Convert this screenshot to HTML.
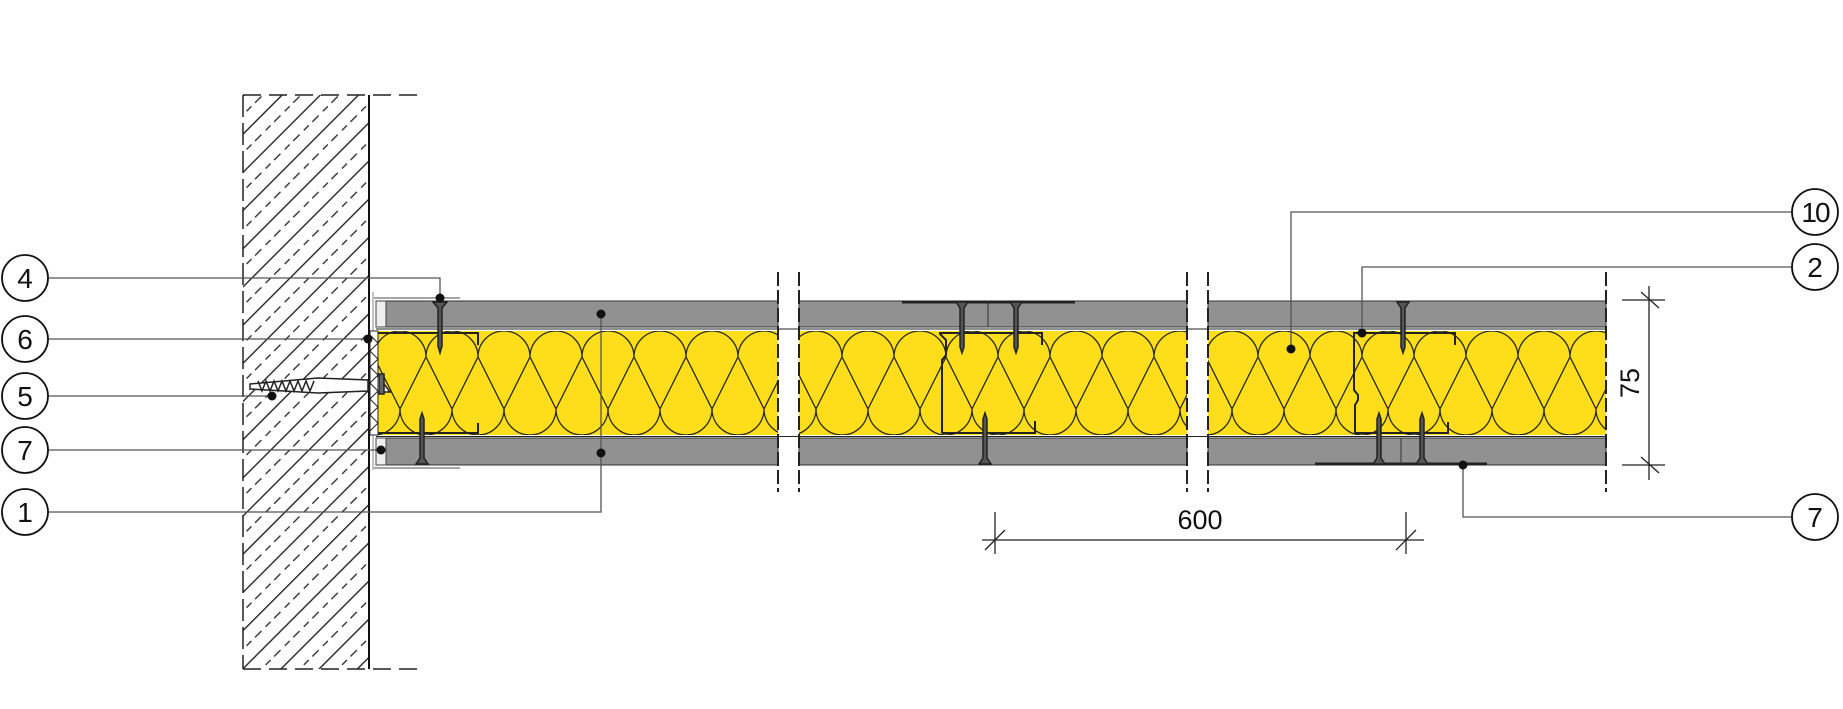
<!DOCTYPE html>
<html><head><meta charset="utf-8"><style>
html,body{margin:0;padding:0;background:#fff;}
svg{display:block;}
text{font-family:"Liberation Sans",sans-serif;fill:#111;}
</style></head><body>
<svg width="1843" height="709" viewBox="0 0 1843 709" xmlns="http://www.w3.org/2000/svg">
<defs>
<pattern id="ins" patternUnits="userSpaceOnUse" x="400" y="331" width="52" height="104">
  <g fill="none" stroke="#2a2a1a" stroke-width="1.3">
    <path d="M-26,26 A26,26 0 0 1 26,26 A26,26 0 0 1 78,26"/>
    <path d="M-52,78 A26,26 0 0 0 0,78 A26,26 0 0 0 52,78 A26,26 0 0 0 104,78"/>
    <path d="M0,78 L26,26 L52,78"/>
  </g>
</pattern>
<pattern id="hatch" patternUnits="userSpaceOnUse" width="27" height="27" patternTransform="translate(243,95) rotate(-45)">
  <line x1="0" y1="0.7" x2="27" y2="0.7" stroke="#222" stroke-width="1.3"/>
  <line x1="3" y1="14" x2="12" y2="14" stroke="#222" stroke-width="1.3"/>
  <line x1="18" y1="14" x2="25" y2="14" stroke="#222" stroke-width="1.3"/>
</pattern>
</defs>

<rect x="243" y="95" width="126" height="574" fill="url(#hatch)"/>
<line x1="243" y1="95" x2="243" y2="669" stroke="#222" stroke-width="1.5" stroke-dasharray="22,6"/>
<line x1="369" y1="95" x2="369" y2="669" stroke="#111" stroke-width="2"/>
<line x1="243" y1="95" x2="420" y2="95" stroke="#222" stroke-width="1.5" stroke-dasharray="18,8"/>
<line x1="243" y1="669" x2="420" y2="669" stroke="#222" stroke-width="1.5" stroke-dasharray="18,8"/>

<g>
  <rect x="376" y="301" width="402" height="26" fill="#919191" stroke="#333" stroke-width="1"/>
  <rect x="376" y="438" width="402" height="27" fill="#919191" stroke="#333" stroke-width="1"/>
  <rect x="377" y="331" width="401" height="104" fill="#fedd1a"/>
  <rect x="377" y="331" width="401" height="104" fill="url(#ins)"/>
  <rect x="799" y="301" width="388" height="26" fill="#919191" stroke="#333" stroke-width="1"/>
  <rect x="799" y="438" width="388" height="27" fill="#919191" stroke="#333" stroke-width="1"/>
  <rect x="799" y="331" width="388" height="104" fill="#fedd1a"/>
  <rect x="799" y="331" width="388" height="104" fill="url(#ins)"/>
  <rect x="1208" y="301" width="398" height="26" fill="#919191" stroke="#333" stroke-width="1"/>
  <rect x="1208" y="438" width="398" height="27" fill="#919191" stroke="#333" stroke-width="1"/>
  <rect x="1208" y="331" width="398" height="104" fill="#fedd1a"/>
  <rect x="1208" y="331" width="398" height="104" fill="url(#ins)"/>
  <line x1="376" y1="329" x2="1606" y2="329" stroke="#222" stroke-width="1"/>
  <line x1="376" y1="436.5" x2="1606" y2="436.5" stroke="#222" stroke-width="1"/>
</g>

<rect x="376" y="301" width="10" height="26" fill="#eee" stroke="#444" stroke-width="1"/>
<rect x="376" y="438" width="10" height="27" fill="#eee" stroke="#444" stroke-width="1"/>
<line x1="374" y1="298" x2="460" y2="298" stroke="#888" stroke-width="1.5"/>
<line x1="374" y1="468" x2="460" y2="468" stroke="#888" stroke-width="1.5"/>
<line x1="373" y1="292" x2="373" y2="470" stroke="#888" stroke-width="1"/>
<rect x="370" y="331" width="8" height="104" fill="#fff" stroke="#222" stroke-width="1"/>
<path d="M370,335 l8,8 l-8,8 l8,8 l-8,8 l8,8 l-8,8 l8,8 l-8,8 l8,8 l-8,8 l8,8 l-8,8" fill="none" stroke="#222" stroke-width="1"/>

<g fill="none" stroke="#222" stroke-width="2">
  <path d="M378,333 L478,333 L478,345"/>
  <path d="M378,433 L478,433 L478,423"/>
  <path d="M942,433 L942,360 L946,355 L946,340 L940,334 L940,333 L1042,333 L1042,345"/>
  <path d="M942,433 L1035,433 L1035,421"/>
  <path d="M1355,433 L1355,405 L1358,400 L1358,395 L1354,390 L1354,333 L1455,333 L1455,345"/>
  <path d="M1355,433 L1448,433 L1448,422"/>
</g>
<line x1="902" y1="302" x2="1075" y2="302" stroke="#222" stroke-width="3"/>
<line x1="1315" y1="464" x2="1487" y2="464" stroke="#222" stroke-width="3"/>
<line x1="988" y1="302" x2="988" y2="327" stroke="#333" stroke-width="1"/>
<line x1="1401" y1="438" x2="1401" y2="464" stroke="#333" stroke-width="1"/>

<g stroke="#222" stroke-width="1.5" fill="#555">
  <path d="M433,302 L447,302 L442,308 L442,346 L440,353 L438,346 L438,308 Z"/>
  <path d="M956,302 L968,302 L964,308 L964,347 L962,353 L960,347 L960,308 Z"/>
  <path d="M1010,302 L1022,302 L1018,308 L1018,347 L1016,353 L1014,347 L1014,308 Z"/>
  <path d="M1397,302 L1409,302 L1405,308 L1405,347 L1403,353 L1401,347 L1401,308 Z"/>
  <path d="M416,464 L428,464 L424,458 L424,419 L422,413 L420,419 L420,458 Z"/>
  <path d="M979,464 L991,464 L987,458 L987,419 L985,413 L983,419 L983,458 Z"/>
  <path d="M1373,464 L1385,464 L1381,458 L1381,419 L1379,413 L1377,419 L1377,458 Z"/>
  <path d="M1416,464 L1428,464 L1424,458 L1424,419 L1422,413 L1420,419 L1420,458 Z"/>
</g>
<g stroke="#222" stroke-width="1.5" fill="#fff">
  <path d="M250,384 L318,378 L368,380 L368,391 L318,393 L250,389 Z"/>
  <path d="M258,381 l4,10 l4,-10 l4,10 l4,-10 l4,10 l4,-10 l4,10 l4,-10 l4,10 l4,-10 l4,10 l4,-10 l4,10 l4,-10" fill="none"/>
  <path d="M378,376 L390,392 L378,392"/>
  <rect x="379" y="374" width="5" height="20" fill="#666"/>
</g>

<g stroke="#222" stroke-width="2" stroke-dasharray="14,4">
  <line x1="778" y1="272" x2="778" y2="492"/>
  <line x1="799" y1="272" x2="799" y2="492"/>
  <line x1="1187" y1="272" x2="1187" y2="492"/>
  <line x1="1208" y1="272" x2="1208" y2="492"/>
  <line x1="1606" y1="272" x2="1606" y2="492"/>
</g>

<g stroke="#555" stroke-width="1.3" fill="none">
  <polyline points="48,278 440,278 440,298"/>
  <line x1="48" y1="339" x2="368" y2="339"/>
  <line x1="48" y1="396" x2="272" y2="396"/>
  <line x1="48" y1="450" x2="381" y2="450"/>
  <polyline points="48,512 601,512 601,314"/>
  <polyline points="1792,212 1291,212 1291,349"/>
  <polyline points="1792,267 1362,267 1362,333"/>
  <polyline points="1463,465 1463,517 1792,517"/>
</g>
<g fill="#111">
  <circle cx="440" cy="298" r="4.5"/>
  <circle cx="368" cy="339" r="4.5"/>
  <circle cx="272" cy="396" r="4.5"/>
  <circle cx="381" cy="450" r="4.5"/>
  <circle cx="601" cy="314" r="4.5"/>
  <circle cx="601" cy="453" r="4.5"/>
  <circle cx="1291" cy="349" r="4.5"/>
  <circle cx="1362" cy="333" r="4.5"/>
  <circle cx="1463" cy="465" r="4.5"/>
</g>

<g fill="#fff" stroke="#111" stroke-width="1.8">
  <circle cx="25" cy="278" r="23"/>
  <circle cx="25" cy="339" r="23"/>
  <circle cx="25" cy="396" r="23"/>
  <circle cx="25" cy="450" r="23"/>
  <circle cx="25" cy="512" r="23"/>
  <circle cx="1815" cy="212" r="23"/>
  <circle cx="1815" cy="267" r="23"/>
  <circle cx="1815" cy="517" r="23"/>
</g>
<g font-size="28" text-anchor="middle">
  <text x="25" y="288">4</text>
  <text x="25" y="349">6</text>
  <text x="25" y="406">5</text>
  <text x="25" y="460">7</text>
  <text x="25" y="522">1</text>
  <text x="1815" y="222" letter-spacing="-2">10</text>
  <text x="1815" y="277">2</text>
  <text x="1815" y="527">7</text>
</g>

<g stroke="#222" stroke-width="1.3">
  <line x1="982" y1="540" x2="1424" y2="540"/>
  <line x1="995" y1="512" x2="995" y2="554"/>
  <line x1="985" y1="550" x2="1005" y2="530"/>
  <line x1="1406" y1="512" x2="1406" y2="554"/>
  <line x1="1396" y1="550" x2="1416" y2="530"/>
  <line x1="1649" y1="286" x2="1649" y2="480"/>
  <line x1="1622" y1="300" x2="1665" y2="300"/>
  <line x1="1622" y1="465" x2="1665" y2="465"/>
  <line x1="1641" y1="292" x2="1659" y2="308"/>
  <line x1="1641" y1="457" x2="1659" y2="473"/>
</g>
<text x="1200" y="529" font-size="27" text-anchor="middle">600</text>
<text transform="translate(1639,383) rotate(-90)" font-size="27" text-anchor="middle">75</text>
</svg>
</body></html>
